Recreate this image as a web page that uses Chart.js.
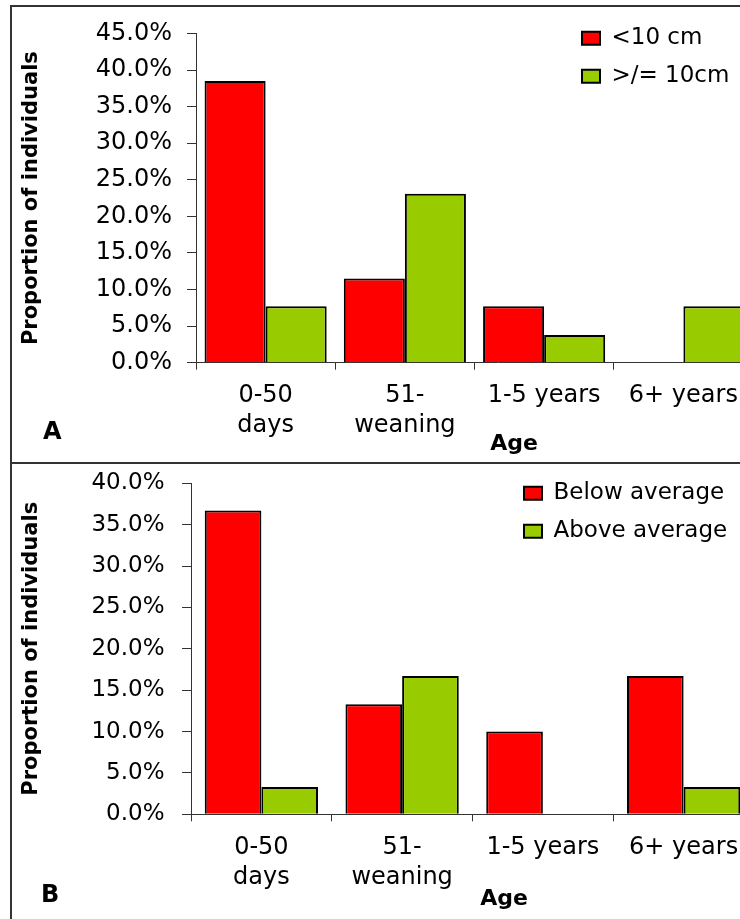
<!DOCTYPE html>
<html>
<head>
<meta charset="utf-8">
<script src="https://cdn.jsdelivr.net/npm/chart.js@4/dist/chart.umd.min.js"></script>
<style>
    html, body { margin: 0; padding: 0; background: #fff; }
    body { width: 740px; height: 919px; overflow: hidden; position: relative; font-family: 'DejaVu Sans', sans-serif; }
    .panel { position: absolute; left: 0; }
    .panel canvas { display: block; }
    .frame { position: absolute; left: 10px; top: 5px; width: 900px; height: 1000px; border: 2px solid #333; box-sizing: border-box; }
    .divider { position: absolute; left: 10px; top: 462px; width: 900px; height: 2px; background: #333; }
    .tag { position: absolute; font-weight: bold; font-size: 24px; line-height: 24px; color: #000; }
</style>
</head>
<body>
<div class="panel" style="top:0"><canvas id="chartA" width="800" height="462"></canvas></div>
<div class="panel" style="top:462px"><canvas id="chartB" width="800" height="457"></canvas></div>
<div class="frame"></div>
<div class="divider"></div>
<div class="tag" style="left:43px;top:419px">A</div>
<div class="tag" style="left:41px;top:882px">B</div>
<script>
const ageLabels = [['0-50', 'days'], ['51-', 'weaning'], '1-5 years', '6+ years'];

// Panel A - body length
const lengthNames = ['<10 cm', '>/= 10cm'];
const shortBodies = [38.5, 11.5, 7.7, 0];
const longBodies = [7.7, 23.1, 3.8, 7.7];

// Panel B - body condition
const conditionNames = ['Below average', 'Above average'];
const belowAverage = [36.7, 13.3, 10.0, 16.7];
const aboveAverage = [3.3, 16.7, 0, 3.3];

Chart.defaults.font.family = "'DejaVu Sans', sans-serif";
Chart.defaults.color = '#000';

// Moves the legend into the top right corner and shifts the x title like the original
const placeBoxes = {
    id: 'placeBoxes',
    afterLayout(chart, args, opts) {
        chart.legend.left = opts.legendX;
        chart.legend.top = opts.legendY;
        chart.scales.x.right = opts.titleRight;
    }
};

function makeChart(id, settings) {
    return new Chart(document.getElementById(id), {
        type: 'bar',
        plugins: [placeBoxes],
        data: {
            labels: ageLabels,
            datasets: [
                { label: settings.names[0], data: settings.series[0], backgroundColor: '#FF0000', borderColor: '#000', borderWidth: 2 },
                { label: settings.names[1], data: settings.series[1], backgroundColor: '#99CC00', borderColor: '#000', borderWidth: 2 }
            ]
        },
        options: {
            responsive: false,
            animation: false,
            devicePixelRatio: 1,
            datasets: { bar: { categoryPercentage: settings.groupWidth, barPercentage: 1 } },
            layout: { padding: settings.padding },
            plugins: {
                legend: {
                    position: 'chartArea',
                    align: 'start',
                    labels: { boxWidth: 18, boxHeight: 13, padding: 15, color: '#000', font: { size: 23 } }
                },
                tooltip: { enabled: false },
                placeBoxes: settings.place
            },
            scales: {
                x: {
                    grid: { drawOnChartArea: false, tickLength: 7, color: '#333', offset: true },
                    border: { color: '#333' },
                    ticks: { color: '#000', font: { size: 24, lineHeight: 1.25 }, padding: settings.labelGap, maxRotation: 0, autoSkip: false },
                    title: { display: true, text: 'Age', color: '#000', font: { size: 22, weight: 'bold' }, padding: { top: 0, bottom: settings.ageGap } },
                    afterFit: (scale) => {
                        scale.height = settings.xAxisHeight;
                        scale.paddingLeft = 0;
                        scale.paddingRight = 0;
                    }
                },
                y: {
                    min: 0,
                    max: settings.max,
                    ticks: {
                        stepSize: 5,
                        color: '#000',
                        font: { size: settings.tickSize },
                        padding: settings.tickGap,
                        callback: (value) => value.toFixed(1) + '%'
                    },
                    grid: { drawOnChartArea: false, tickLength: 9, color: '#333' },
                    border: { color: '#333' },
                    title: { display: true, text: 'Proportion of individuals', color: '#000', font: { size: 21, weight: 'bold' }, padding: { top: 7.4, bottom: 0 } },
                    afterFit: (scale) => {
                        scale.width = settings.yAxisWidth;
                        scale.paddingTop = 0;
                        scale.paddingBottom = 0;
                    }
                }
            }
        }
    });
}

makeChart('chartA', {
    names: lengthNames,
    series: [shortBodies, longBodies],
    max: 45,
    groupWidth: 0.877,
    padding: { left: 12, top: 33.5, right: 47, bottom: 0 },
    xAxisHeight: 99.3,
    yAxisWidth: 184,
    tickSize: 24,
    tickGap: 15,
    labelGap: 11.3,
    ageGap: 4.8,
    place: { legendX: 567, legendY: 11.7, titleRight: 832 }
});

makeChart('chartB', {
    names: conditionNames,
    series: [belowAverage, aboveAverage],
    max: 40,
    groupWidth: 0.805,
    padding: { left: 12, top: 21.3, right: 46, bottom: 0 },
    xAxisHeight: 104.7,
    yAxisWidth: 179,
    tickSize: 23,
    tickGap: 17.5,
    labelGap: 11.7,
    ageGap: 6.3,
    place: { legendX: 509, legendY: 4.7, titleRight: 817 }
});
</script>
</body>
</html>
